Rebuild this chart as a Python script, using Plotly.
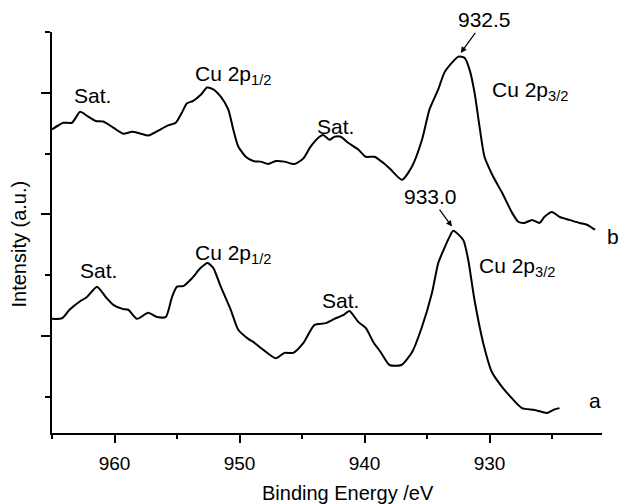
import plotly.graph_objects as go

# Binding energy (eV) and intensity (a.u.)
be_b = [965.0, 964.1, 963.4, 962.75, 962.1, 961.5, 960.9, 960.1, 959.3, 958.6, 957.9, 957.3,
        956.5, 955.8, 955.1, 954.6, 954.2, 953.7, 953.1, 952.6, 952.1, 951.5, 950.9, 950.5,
        950.1, 949.5, 948.9, 948.3, 947.7, 947.1, 946.4, 945.6, 944.9, 944.3, 943.6, 943.3,
        942.8, 942.4, 941.9, 941.3, 940.5, 939.9, 939.2, 938.5, 937.9, 937.0, 936.2, 935.4,
        934.8, 934.1, 933.6, 933.0, 932.5, 932.0, 931.6, 931.2, 930.8, 930.4, 929.7, 929.0,
        928.2, 927.7, 927.2, 926.6, 926.0, 925.6, 925.0, 924.4, 923.6, 922.8, 922.2, 921.8, 921.55]
int_b = [5.40, 5.51, 5.51, 5.69, 5.61, 5.54, 5.53, 5.43, 5.33, 5.36, 5.33, 5.30,
         5.38, 5.46, 5.51, 5.68, 5.83, 5.87, 5.97, 6.09, 6.06, 5.94, 5.73, 5.40,
         5.12, 4.95, 4.88, 4.87, 4.83, 4.88, 4.87, 4.83, 4.92, 5.12, 5.28, 5.31,
         5.23, 5.28, 5.28, 5.18, 5.07, 4.95, 4.95, 4.85, 4.74, 4.57, 4.79, 5.23,
         5.73, 6.06, 6.34, 6.50, 6.60, 6.58, 6.39, 6.01, 5.45, 4.95, 4.62, 4.36,
         4.03, 3.88, 3.86, 3.91, 3.86, 3.96, 4.04, 3.96, 3.91, 3.86, 3.83, 3.78, 3.75]

be_a = [965.0, 964.2, 963.6, 962.75, 962.2, 961.4, 960.7, 960.1, 959.3, 958.9, 958.2, 957.3,
        956.6, 955.9, 955.4, 955.0, 954.5, 953.8, 953.1, 952.55, 952.1, 951.5, 950.7, 950.1,
        949.3, 948.9, 948.1, 947.1, 946.4, 945.7, 944.9, 944.0, 943.1, 942.4, 941.7, 941.2,
        940.5, 939.9, 939.3, 938.7, 938.0, 937.05, 936.2, 935.4, 934.6, 934.1, 933.6, 933.2,
        932.9, 932.1, 931.7, 931.2, 930.5, 929.8, 929.0, 928.2, 927.4, 926.4, 925.4, 924.8, 924.4]
int_a = [2.28, 2.29, 2.43, 2.57, 2.64, 2.81, 2.64, 2.51, 2.44, 2.43, 2.28, 2.38,
         2.31, 2.31, 2.64, 2.81, 2.82, 2.95, 3.12, 3.20, 3.12, 2.81, 2.43, 2.10,
         1.95, 1.90, 1.77, 1.63, 1.72, 1.72, 1.88, 2.18, 2.21, 2.28, 2.34, 2.41,
         2.23, 2.13, 1.90, 1.73, 1.52, 1.52, 1.73, 2.15, 2.71, 3.20, 3.45, 3.63,
         3.73, 3.58, 3.25, 2.59, 1.88, 1.40, 1.16, 0.97, 0.81, 0.78, 0.73, 0.79, 0.81]

x_ticks = [960, 950, 940, 930]

FONT = "Liberation Sans, Arial, Helvetica, sans-serif"

fig = go.Figure()
for xs, ys in [(be_b, int_b), (be_a, int_a)]:
    fig.add_trace(go.Scatter(x=xs, y=ys, mode="lines",
                             line=dict(color="black", width=2, shape="spline", smoothing=0.6),
                             showlegend=False, hoverinfo="skip"))

labels = [
    ("Sat.", 961.8, 5.96), ("Cu 2p<sub>1/2</sub>", 950.5, 6.29), ("Sat.", 942.3, 5.45),
    ("Cu 2p<sub>3/2</sub>", 926.8, 6.04),
    ("Sat.", 961.3, 3.07), ("Cu 2p<sub>1/2</sub>", 950.5, 3.35), ("Sat.", 941.9, 2.59),
    ("Cu 2p<sub>3/2</sub>", 927.8, 3.14),
    ("a", 921.6, 0.94),
]
for t, x, y in labels:
    fig.add_annotation(x=x, y=y, text=t, showarrow=False,
                       font=dict(family=FONT, size=21, color="black"))

fig.add_annotation(xref="paper", x=1.02, y=3.63, text="b", showarrow=False,
                   xanchor="center", font=dict(family=FONT, size=21, color="black"))

for t, x, y, ax, ay in [("932.5", 932.3, 6.66, 24, -33), ("933.0", 933.0, 3.80, -22, -30)]:
    fig.add_annotation(x=x, y=y, text=t, showarrow=True, ax=ax, ay=ay,
                       arrowhead=2, arrowsize=1, arrowwidth=1.2, arrowcolor="black",
                       standoff=0, startstandoff=0,
                       font=dict(family=FONT, size=21, color="black"))

fig.add_annotation(xref="paper", yref="paper", x=0.538, y=-0.15, xanchor="center",
                   yanchor="middle", text="Binding Energy /eV", showarrow=False,
                   font=dict(family=FONT, size=20, color="black"))
fig.add_annotation(xref="paper", yref="paper", x=-0.06, y=0.47, xanchor="center",
                   yanchor="middle", textangle=-90,
                   text="Intensity (a.u.)", showarrow=False,
                   font=dict(family=FONT, size=20, color="black"))

fig.update_layout(
    width=621, height=504,
    margin=dict(l=52, r=19, t=32, b=71),
    paper_bgcolor="white", plot_bgcolor="white",
    font=dict(family=FONT, color="black"),
    xaxis=dict(range=[965, 921], tickvals=x_ticks, ticks="outside", ticklen=8, tickwidth=1.5,
               tickcolor="black", showline=True, linecolor="black", linewidth=1.5,
               showgrid=False, zeroline=False, tickfont=dict(size=19, family=FONT),
               ticklabelstandoff=4,
               minor=dict(dtick=5, tick0=0, ticks="outside", ticklen=4, tickwidth=1.5,
                          tickcolor="black", showgrid=False)),
    yaxis=dict(range=[0.4, 7.005], dtick=2, tick0=0, ticks="outside", ticklen=9, tickwidth=1.5,
               tickcolor="black", showline=True, linecolor="black", linewidth=1.5,
               showgrid=False, zeroline=False, showticklabels=False,
               minor=dict(dtick=1, tick0=0, ticks="outside", ticklen=5, tickwidth=1.5,
                          tickcolor="black", showgrid=False)),
)

# remove the default page margin so the figure fills the window exactly
fig.write_html("out.html", config={"displayModeBar": False},
               post_script="document.body.style.margin='0';document.body.style.overflow='hidden';")
